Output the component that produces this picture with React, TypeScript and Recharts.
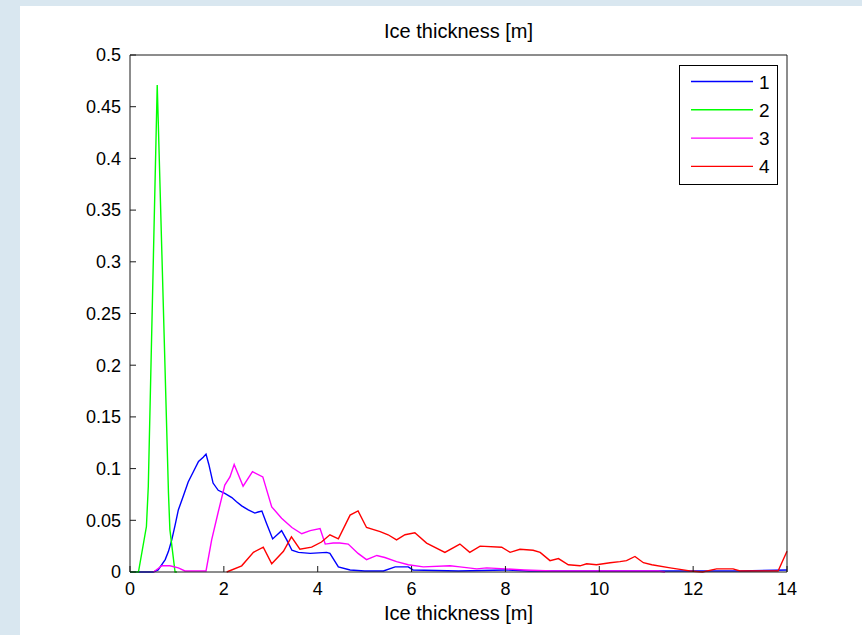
import { LineChart, Line, XAxis, YAxis, Legend, Label } from "recharts";

// thickness [m] / fraction per class
const thickness1 = [0, 0.5, 0.6, 0.75, 0.82, 0.89, 0.96, 1.03, 1.14, 1.24, 1.35, 1.46, 1.56, 1.62, 1.68, 1.77, 1.88, 2.02, 2.17, 2.27, 2.38, 2.52, 2.66, 2.73, 2.81, 2.91, 3.04, 3.23, 3.34, 3.45, 3.59, 3.84, 4.19, 4.26, 4.44, 4.69, 5.0, 5.4, 5.65, 5.93, 6.03, 7.0, 8.0, 8.5, 9.0, 10.0, 11.0, 12.0, 13.0, 14.0];
const share1 = [0, 0, 0.002, 0.012, 0.02, 0.031, 0.045, 0.06, 0.074, 0.087, 0.097, 0.107, 0.111, 0.114, 0.104, 0.086, 0.079, 0.076, 0.072, 0.068, 0.064, 0.06, 0.057, 0.058, 0.059, 0.047, 0.032, 0.04, 0.031, 0.021, 0.019, 0.018, 0.019, 0.018, 0.005, 0.002, 0.001, 0.001, 0.005, 0.005, 0.002, 0.001, 0.002, 0.001, 0.001, 0.001, 0.001, 0.001, 0.001, 0.002];

const thickness2 = [0, 0.18, 0.35, 0.39, 0.58, 0.6, 0.82, 0.85, 0.96, 1.0];
const share2 = [0, 0, 0.044, 0.083, 0.471, 0.439, 0.076, 0.041, 0, 0];

const thickness3 = [0.5, 0.68, 0.85, 1.03, 1.17, 1.62, 1.74, 1.88, 2.02, 2.13, 2.22, 2.41, 2.61, 2.83, 3.02, 3.23, 3.45, 3.66, 3.84, 4.05, 4.16, 4.33, 4.47, 4.65, 4.86, 5.04, 5.26, 5.43, 5.68, 5.93, 6.25, 6.82, 7.03, 7.39, 7.6, 8.0, 8.4, 9.0, 11.25, 11.4];
const share3 = [0, 0.006, 0.006, 0.004, 0.001, 0.001, 0.031, 0.058, 0.084, 0.092, 0.104, 0.083, 0.097, 0.092, 0.063, 0.052, 0.043, 0.037, 0.04, 0.042, 0.027, 0.028, 0.028, 0.027, 0.018, 0.012, 0.016, 0.014, 0.01, 0.007, 0.005, 0.006, 0.005, 0.003, 0.004, 0.003, 0.002, 0.001, 0.001, 0];

const thickness4 = [2.06, 2.38, 2.63, 2.84, 3.02, 3.27, 3.44, 3.62, 3.87, 4.08, 4.26, 4.44, 4.69, 4.86, 5.04, 5.33, 5.5, 5.68, 5.86, 6.07, 6.32, 6.71, 7.03, 7.24, 7.46, 7.92, 8.1, 8.31, 8.59, 8.74, 8.95, 9.13, 9.34, 9.59, 9.73, 9.94, 10.23, 10.44, 10.58, 10.76, 10.94, 11.12, 11.51, 11.79, 11.93, 12.2, 12.5, 12.85, 13.0, 13.81, 14.0];
const share4 = [0, 0.006, 0.019, 0.024, 0.008, 0.02, 0.034, 0.022, 0.024, 0.029, 0.036, 0.032, 0.055, 0.059, 0.043, 0.039, 0.036, 0.031, 0.036, 0.038, 0.028, 0.019, 0.027, 0.019, 0.025, 0.024, 0.019, 0.022, 0.021, 0.019, 0.011, 0.013, 0.007, 0.006, 0.008, 0.007, 0.009, 0.01, 0.011, 0.015, 0.009, 0.007, 0.004, 0.002, 0.001, 0, 0.003, 0.003, 0.001, 0.001, 0.02];

const seriesNames = ["1", "2", "3", "4"];
const seriesColors = ["#0000ff", "#00ff00", "#ff00ff", "#ff0000"];

const xTicks = [0, 2, 4, 6, 8, 10, 12, 14];
const yTicks = [0, 0.05, 0.1, 0.15, 0.2, 0.25, 0.3, 0.35, 0.4, 0.45, 0.5];
const yTickLabels = ["0", "0.05", "0.1", "0.15", "0.2", "0.25", "0.3", "0.35", "0.4", "0.45", "0.5"];

const toPoints = (xs: number[], ys: number[]) => xs.map((x, i) => ({ x, y: ys[i] }));
const seriesData = [
  toPoints(thickness1, share1),
  toPoints(thickness2, share2),
  toPoints(thickness3, share3),
  toPoints(thickness4, share4),
];

const font = "'Liberation Sans', Arial, sans-serif";
const axisColor = "#1a1a1a";
const tickStyle = { fill: "#000", fontSize: 18, fontFamily: font };

function IceLegend() {
  return (
    <svg width={99} height={120} style={{ display: "block" }}>
      <rect x={0.5} y={0.5} width={98} height={119} fill="#fff" stroke="#000" />
      {seriesNames.map((name, i) => {
        const y = 16.5 + i * 28.3;
        return (
          <g key={name}>
            <line x1={12} x2={74} y1={y} y2={y} stroke={seriesColors[i]} strokeWidth={1.4} />
            <text x={80} y={y + 7} fontSize={19} fontFamily={font} fill="#000">
              {name}
            </text>
          </g>
        );
      })}
    </svg>
  );
}

export default function App() {
  return (
    <div style={{ position: "fixed", left: 0, top: 0, width: 862, height: 635, background: "#d9e7f0", overflow: "hidden" }}>
      <div style={{ position: "absolute", left: 20, top: 6, right: 0, bottom: 0, background: "#fff" }} />
      <div style={{ position: "absolute", left: 0, top: 0 }}>
        <LineChart width={862} height={635} margin={{ top: 54, right: 74, bottom: 0, left: 70 }}>
          <XAxis
            xAxisId="bottom"
            type="number"
            dataKey="x"
            domain={[0, 14]}
            ticks={xTicks}
            height={63}
            stroke={axisColor}
            tickSize={-6}
            tickMargin={16}
            tick={tickStyle}
            allowDuplicatedCategory={false}
          >
            <Label value="Ice thickness [m]" position="insideBottom" offset={15} fill="#000" fontSize={20} fontFamily={font} />
          </XAxis>
          <XAxis
            xAxisId="top"
            orientation="top"
            type="number"
            dataKey="x"
            domain={[0, 14]}
            ticks={xTicks}
            height={1}
            stroke={axisColor}
            tickSize={-6}
            tick={false}
            allowDuplicatedCategory={false}
          >
            <Label value="Ice thickness [m]" position="top" offset={16} fill="#000" fontSize={20} fontFamily={font} />
          </XAxis>
          <YAxis
            yAxisId="left"
            type="number"
            domain={[0, 0.5]}
            ticks={yTicks}
            width={60}
            stroke={axisColor}
            tickSize={-6}
            tickMargin={15}
            tick={tickStyle}
            tickFormatter={(v: number) => yTickLabels[yTicks.indexOf(v)] ?? String(v)}
          />
          <YAxis yAxisId="right" orientation="right" type="number" domain={[0, 0.5]} ticks={yTicks} width={1} stroke={axisColor} tickSize={-6} tick={false} />
          {/* invisible copy so the frame axes (top/right) get drawn */}
          <Line
            xAxisId="top"
            yAxisId="right"
            data={seriesData[3]}
            dataKey="y"
            stroke="none"
            dot={false}
            legendType="none"
            isAnimationActive={false}
          />
          {seriesData.map((data, i) => (
            <Line
              key={seriesNames[i]}
              xAxisId="bottom"
              yAxisId="left"
              data={data}
              dataKey="y"
              name={seriesNames[i]}
              type="linear"
              stroke={seriesColors[i]}
              strokeWidth={1.4}
              dot={false}
              isAnimationActive={false}
            />
          ))}
          <Legend
            layout="horizontal"
            verticalAlign="middle"
            align="center"
            content={() => <IceLegend />}
            wrapperStyle={{ left: 679, top: 65, width: 99, height: 120 }}
          />
        </LineChart>
      </div>
    </div>
  );
}
